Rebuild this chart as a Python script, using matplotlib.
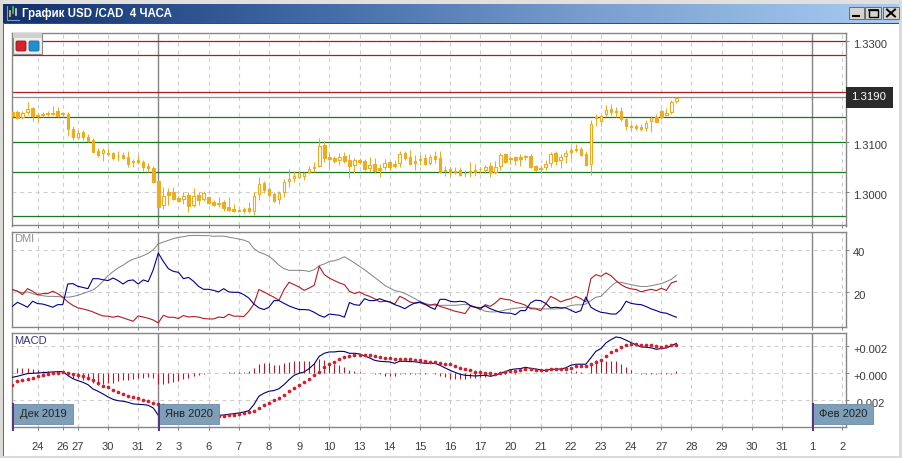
import numpy as np
import matplotlib
matplotlib.use("Agg")
import matplotlib.pyplot as plt
from matplotlib.patches import Rectangle, FancyBboxPatch
from matplotlib.colors import LinearSegmentedColormap
from matplotlib.transforms import ScaledTranslation

plt.rcParams['font.family'] = ['Liberation Sans', 'DejaVu Sans']

# USD/CAD 4 hour candles
opens = [1.3160,1.3160,1.3149,1.3160,1.3167,1.3153,1.3155,1.3157,1.3157,1.3162,
         1.3157,1.3156,1.3126,1.3110,1.3119,1.3110,1.3104,1.3082,1.3078,1.3078,
         1.3078,1.3073,1.3074,1.3070,1.3062,1.3064,1.3061,1.3052,1.3048,1.3022,
         1.2974,1.3000,1.3001,1.2988,1.2986,1.2995,1.2974,1.2995,1.2987,1.2991,
         1.2981,1.2979,1.2981,1.2971,1.2967,1.2965,1.2967,1.2968,1.2963,1.2996,
         1.3019,1.3006,1.2997,1.2986,1.3001,1.3023,1.3029,1.3031,1.3032,1.3040,
         1.3048,1.3052,1.3094,1.3070,1.3068,1.3064,1.3073,1.3065,1.3054,1.3065,
         1.3062,1.3049,1.3056,1.3048,1.3051,1.3060,1.3056,1.3059,1.3078,1.3071,
         1.3063,1.3066,1.3068,1.3058,1.3072,1.3068,1.3044,1.3046,1.3042,1.3044,
         1.3039,1.3042,1.3044,1.3047,1.3044,1.3052,1.3040,1.3052,1.3076,1.3068,
         1.3070,1.3070,1.3072,1.3072,1.3052,1.3048,1.3050,1.3058,1.3079,1.3065,
         1.3072,1.3085,1.3086,1.3087,1.3076,1.3056,1.3147,1.3141,1.3156,1.3166,
         1.3162,1.3161,1.3145,1.3132,1.3132,1.3130,1.3127,1.3141,1.3149,1.3162,
         1.3153,1.3160,1.3182]
highs = [1.3162,1.3164,1.3162,1.3179,1.3169,1.3157,1.3160,1.3162,1.3171,1.3169,
         1.3160,1.3160,1.3131,1.3124,1.3123,1.3115,1.3107,1.3088,1.3088,1.3088,
         1.3080,1.3082,1.3081,1.3083,1.3066,1.3074,1.3064,1.3058,1.3052,1.3023,
         1.3010,1.3008,1.3010,1.2993,1.3001,1.3001,1.3008,1.3001,1.3003,1.2991,
         1.2985,1.2990,1.2985,1.2991,1.2977,1.2966,1.2970,1.2981,1.3001,1.3031,
         1.3023,1.3011,1.3001,1.3003,1.3026,1.3046,1.3042,1.3043,1.3041,1.3052,
         1.3061,1.3107,1.3101,1.3078,1.3073,1.3079,1.3080,1.3076,1.3068,1.3068,
         1.3066,1.3070,1.3068,1.3056,1.3066,1.3063,1.3064,1.3082,1.3083,1.3084,
         1.3074,1.3074,1.3076,1.3076,1.3082,1.3082,1.3052,1.3051,1.3050,1.3051,
         1.3044,1.3060,1.3056,1.3051,1.3054,1.3061,1.3063,1.3078,1.3078,1.3072,
         1.3072,1.3076,1.3075,1.3076,1.3054,1.3054,1.3064,1.3081,1.3082,1.3076,
         1.3084,1.3091,1.3096,1.3091,1.3083,1.3144,1.3156,1.3154,1.3174,1.3176,
         1.3169,1.3169,1.3147,1.3136,1.3136,1.3136,1.3143,1.3152,1.3156,1.3165,
         1.3167,1.3184,1.3190]
lows = [1.3150,1.3145,1.3145,1.3154,1.3141,1.3141,1.3150,1.3152,1.3154,1.3150,
        1.3149,1.3111,1.3103,1.3105,1.3104,1.3100,1.3080,1.3071,1.3063,1.3072,
        1.3064,1.3063,1.3066,1.3051,1.3050,1.3056,1.3043,1.3041,1.3019,1.2970,
        1.2966,1.2975,1.2985,1.2980,1.2977,1.2960,1.2970,1.2975,1.2983,1.2977,
        1.2973,1.2971,1.2963,1.2963,1.2960,1.2960,1.2958,1.2958,1.2955,1.2985,
        1.2999,1.2991,1.2980,1.2976,1.2991,1.3010,1.3021,1.3028,1.3025,1.3036,
        1.3041,1.3050,1.3061,1.3049,1.3058,1.3054,1.3059,1.3029,1.3039,1.3056,
        1.3043,1.3043,1.3039,1.3031,1.3044,1.3044,1.3048,1.3050,1.3064,1.3054,
        1.3044,1.3054,1.3054,1.3054,1.3058,1.3038,1.3032,1.3032,1.3036,1.3032,
        1.3031,1.3031,1.3032,1.3038,1.3038,1.3031,1.3036,1.3044,1.3058,1.3056,
        1.3054,1.3052,1.3064,1.3048,1.3042,1.3039,1.3044,1.3050,1.3054,1.3049,
        1.3058,1.3066,1.3081,1.3072,1.3052,1.3034,1.3131,1.3131,1.3151,1.3154,
        1.3149,1.3141,1.3123,1.3122,1.3123,1.3121,1.3121,1.3120,1.3139,1.3145,
        1.3151,1.3156,1.3178]
closes = [1.3152,1.3147,1.3157,1.3166,1.3151,1.3151,1.3154,1.3156,1.3156,1.3152,
          1.3156,1.3125,1.3109,1.3117,1.3109,1.3102,1.3080,1.3074,1.3084,1.3077,
          1.3068,1.3072,1.3068,1.3056,1.3060,1.3060,1.3051,1.3048,1.3021,1.2971,
          1.2993,1.2995,1.2987,1.2983,1.2993,1.2972,1.2993,1.2985,1.2999,1.2978,
          1.2975,1.2977,1.2968,1.2965,1.2963,1.2962,1.2963,1.2962,1.2993,1.3016,
          1.3005,1.2995,1.2983,1.2999,1.3020,1.3027,1.3033,1.3038,1.3038,1.3046,
          1.3050,1.3092,1.3069,1.3066,1.3062,1.3070,1.3062,1.3052,1.3064,1.3060,
          1.3046,1.3054,1.3043,1.3044,1.3058,1.3051,1.3052,1.3076,1.3069,1.3057,
          1.3059,1.3065,1.3057,1.3070,1.3067,1.3040,1.3042,1.3040,1.3040,1.3035,
          1.3038,1.3041,1.3040,1.3046,1.3050,1.3040,1.3050,1.3074,1.3061,1.3066,
          1.3064,1.3067,1.3070,1.3050,1.3044,1.3046,1.3056,1.3076,1.3063,1.3070,
          1.3078,1.3080,1.3084,1.3074,1.3054,1.3136,1.3149,1.3152,1.3163,1.3160,
          1.3160,1.3145,1.3131,1.3130,1.3128,1.3125,1.3137,1.3147,1.3139,1.3149,
          1.3157,1.3179,1.3187]

# DMI lines
dmi_adx = [21.1,20.5,19.8,20.2,19.4,18.8,18.4,18.1,18.1,18.0,
           17.8,17.7,18.0,18.6,19.4,20.2,21.1,22.8,25.2,27.8,
           29.7,31.4,32.7,34.4,35.5,36.3,37.2,38.3,40.0,42.7,
           43.6,44.4,45.2,45.8,46.1,46.6,46.7,46.7,46.6,46.6,
           46.3,46.4,46.4,45.9,45.5,45.0,44.5,43.6,40.5,38.9,
           38.0,36.9,35.0,32.7,31.1,30.3,30.3,30.3,
           30.2,29.8,30.6,32.5,33.3,34.5,34.8,35.6,36.7,35.3,
           33.8,32.2,30.6,28.8,27.0,25.2,23.3,22.0,20.8,20.3,
           19.5,18.3,17.0,15.8,14.8,14.2,13.9,13.9,13.9,13.9,
           13.9,14.1,14.4,13.9,13.0,12.2,11.1,10.8,10.8,11.1,
           11.7,12.2,12.5,12.8,13.0,12.8,12.5,12.2,12.2,12.2,
           12.2,12.3,13.0,13.8,14.1,14.1,14.5,16.1,17.7,
           18.1,20.5,22.8,24.7,24.7,24.1,23.6,23.1,22.7,22.7,
           23.1,23.6,24.1,25.0,26.1,28.0]
dmi_plus = [21.3,20.5,18.9,21.7,20.5,18.9,19.4,19.4,20.5,19.4,
            17.7,15.5,13.9,12.7,12.2,11.6,10.8,9.8,8.9,8.8,
            8.3,8.8,8.0,7.2,6.4,8.9,8.4,7.8,7.0,5.6,
            9.2,8.3,8.3,7.7,9.1,8.4,8.6,8.4,7.7,7.5,
            7.5,8.4,8.1,9.7,8.8,8.8,8.6,11.1,14.5,21.3,
            20.2,18.9,17.7,16.3,21.3,24.7,23.6,22.5,
            20.9,22.0,23.3,32.2,28.3,26.7,25.5,24.4,23.6,20.5,
            19.4,20.2,18.9,18.1,17.0,15.5,15.8,15.5,14.5,18.1,
            17.0,15.5,14.8,15.2,14.2,13.9,14.5,13.4,12.7,11.9,
            11.1,10.6,10.0,13.4,13.0,11.9,14.2,13.4,15.0,17.2,
            16.7,16.4,15.3,14.8,13.9,12.3,12.2,11.4,14.5,18.1,
            16.9,15.5,16.4,17.0,18.1,17.0,15.5,26.4,28.3,
            27.5,29.1,27.8,25.5,23.6,22.3,21.6,21.3,20.2,20.9,
            21.4,20.8,21.9,20.9,24.4,25.2]
dmi_minus = [13.4,15.3,14.2,13.0,15.8,14.7,14.5,13.8,13.0,14.2,
             14.2,23.9,24.1,22.8,22.3,21.7,26.4,26.4,25.9,25.5,
             26.7,25.5,23.9,25.5,25.8,23.9,25.8,25.0,30.6,38.4,
             34.5,31.1,29.8,29.4,26.4,27.0,25.2,22.8,21.4,21.4,
             20.9,20.2,21.7,20.2,20.0,20.0,18.9,17.3,14.5,12.7,
             11.9,13.0,16.1,16.1,14.8,13.6,12.7,11.9,
             11.9,11.7,10.6,9.2,8.3,9.8,9.5,9.2,8.3,15.2,
             14.2,13.9,17.0,16.1,16.1,17.0,16.1,15.5,14.2,13.4,
             12.3,13.8,15.0,15.5,14.5,13.0,12.0,16.7,16.7,15.8,
             15.5,15.8,15.5,13.8,13.0,12.7,13.6,12.3,11.4,10.6,
             10.3,10.2,9.5,11.4,11.4,15.0,16.3,16.1,14.8,12.7,
             13.0,12.7,12.7,11.6,10.5,11.4,17.8,13.0,11.6,
             10.6,10.3,9.8,9.8,11.9,15.8,14.8,14.4,14.2,13.3,
             12.2,11.4,10.5,10.2,9.2,8.3]

# MACD line, signal dots, histogram
macd_line = [-0.00030,-0.00022,-0.00012,-0.00002,0.0,0.00002,0.00005,0.00007,0.00010,0.00012,
             0.00012,-0.00015,-0.00040,-0.00054,-0.00067,-0.00084,-0.00116,-0.00133,-0.00153,-0.00175,
             -0.00193,-0.00203,-0.00207,-0.00215,-0.00227,-0.00230,-0.00232,-0.00237,-0.00257,-0.00311,
             -0.00331,-0.00343,-0.00351,-0.00356,-0.00356,-0.00351,-0.00343,-0.00336,-0.00331,-0.00326,
             -0.00319,-0.00311,-0.00309,-0.00304,-0.00299,-0.00294,-0.00287,-0.00277,-0.00232,-0.00170,
             -0.00148,-0.00133,-0.00128,-0.00114,-0.00084,-0.00047,-0.00015,0.0,
             0.00010,0.00035,0.00069,0.00126,0.00148,0.00158,0.00158,0.00163,0.00161,0.00148,
             0.00148,0.00143,0.00128,0.00114,0.00096,0.00089,0.00086,0.00084,0.00074,0.00089,
             0.00089,0.00086,0.00086,0.00079,0.00074,0.00074,0.00074,0.00059,0.00040,0.00022,
             0.00007,-0.00007,-0.00015,-0.00017,-0.00020,-0.00017,-0.00015,-0.00022,-0.00015,0.0,
             0.00012,0.00027,0.00032,0.00035,0.00044,0.00037,0.00032,0.00025,0.00020,0.00030,
             0.00030,0.00032,0.00040,0.00059,0.00067,0.00067,0.00067,0.00114,0.00163,
             0.00183,0.00225,0.00249,0.00269,0.00262,0.00245,0.00227,0.00210,0.00195,0.00193,
             0.00188,0.00178,0.00183,0.00188,0.00203,0.00222]
macd_signal = [-0.00084,-0.00059,-0.00052,-0.00042,-0.00032,-0.00022,-0.00012,-0.00002,0.00002,0.00005,
               0.00007,0.00002,-0.00005,-0.00012,-0.00022,-0.00032,-0.00049,-0.00072,-0.00091,-0.00104,
               -0.00126,-0.00141,-0.00153,-0.00165,-0.00178,-0.00183,-0.00198,-0.00205,-0.00217,-0.00225,
               -0.00237,-0.00249,-0.00262,-0.00272,-0.00279,-0.00287,-0.00294,-0.00301,-0.00306,-0.00311,
               -0.00314,-0.00316,-0.00314,-0.00309,-0.00306,-0.00301,-0.00296,-0.00289,-0.00277,-0.00257,
               -0.00237,-0.00217,-0.00195,-0.00180,-0.00158,-0.00133,-0.00109,-0.00084,
               -0.00064,-0.00040,-0.00015,0.00012,0.00044,0.00069,0.00086,0.00104,0.00119,0.00128,
               0.00133,0.00136,0.00133,0.00133,0.00126,0.00119,0.00116,0.00111,0.00106,0.00104,
               0.00104,0.00104,0.00099,0.00096,0.00089,0.00086,0.00082,0.00077,0.00072,0.00067,
               0.00052,0.00042,0.00035,0.00022,0.00010,0.00007,0.00005,0.0,-0.00002,0.00002,
               0.00012,0.00015,0.00017,0.00022,0.00032,0.00032,0.00027,0.00025,0.00022,0.00030,
               0.00030,0.00032,0.00035,0.00042,0.00052,0.00054,0.00054,0.00069,0.00082,
               0.00101,0.00126,0.00156,0.00175,0.00193,0.00207,0.00215,0.00215,0.00212,0.00207,
               0.00207,0.00200,0.00198,0.00200,0.00207,0.00207]
macd_hist = [0.00044,0.00040,0.00040,0.00040,0.00035,0.00027,0.00020,0.00015,0.00010,0.00007,
             0.00002,-0.00022,-0.00035,-0.00035,-0.00047,-0.00052,-0.00072,-0.00084,-0.00079,-0.00072,
             -0.00072,-0.00059,-0.00047,-0.00047,-0.00040,-0.00035,-0.00032,-0.00027,-0.00035,-0.00077,
             -0.00079,-0.00072,-0.00067,-0.00054,-0.00042,-0.00035,-0.00022,-0.00010,-0.00005,0.0,
             0.00002,0.00002,0.00005,0.00007,0.00007,0.00010,0.00010,0.00017,0.00040,0.00072,
             0.00077,0.00074,0.00064,0.00064,0.00079,0.00084,0.00091,0.00089,
             0.00089,0.00089,0.00077,0.00106,0.00096,0.00077,0.00072,0.00059,0.00044,0.00022,
             0.00015,0.00007,0.00005,0.0,-0.00002,-0.00005,-0.00022,-0.00022,-0.00022,-0.00005,
             -0.00002,-0.00005,-0.00002,-0.00002,-0.00005,0.0,-0.00002,-0.00022,-0.00030,-0.00040,
             -0.00042,-0.00042,-0.00040,-0.00035,-0.00032,-0.00027,-0.00025,-0.00022,-0.00015,-0.00002,
             -0.00002,0.0,-0.00002,0.0,0.0,0.0,0.0,0.0,0.0,0.0,
             0.0,0.0,0.00010,0.00015,0.00015,0.00010,0.00005,0.00077,0.00096,
             0.00089,0.00091,0.00091,0.00091,0.00069,0.00044,0.00022,0.0,-0.00007,-0.00005,
             -0.00005,-0.00007,-0.00005,-0.00002,-0.00005,0.00020]

# horizontal levels on the price panel
red_levels = [1.3300, 1.3272, 1.3199]
green_levels = [1.3149, 1.3100, 1.3040, 1.2952]
last_price = 1.3190

# date axis, in bar numbers
day_bars = [5,10,13,19,25,29,33,39,45,51,57,63,69,75,81,87,93,99,105,111,117,123,129,135,141,147,153,159,165]
day_labels = ['24','26','27','30','31','2','3','6','7','8','9','10','13','14','15','16','17','20','21','22',
              '23','24','27','28','29','30','31','1','2']
month_bars = [0, 29, 159]
month_labels = ['Дек 2019', 'Янв 2020', 'Фев 2020']

W, H = 902, 458
GRID = '#cdcdcd'
FRAME = '#858585'
ORANGE = '#eeab1e'
RED = '#b01c22'
GREEN = '#17791c'
BLUE = '#00008c'
DARK_TXT = '#3a3a3a'

x = np.arange(len(closes))
bar_px = 5.03
px_of_bar = lambda b: 158.3 + bar_px * (b - 29)
xlim = ((12.3 - 158.3) / bar_px + 29, (845.7 - 158.3) / bar_px + 29)

fig = plt.figure(figsize=(W / 100, H / 100), dpi=100, facecolor='white')


def panel(top, bottom):
    a = fig.add_axes([12.3 / W, 1 - bottom / H, (845.7 - 12.3) / W, (bottom - top) / H])
    a.set_xlim(xlim)
    a.set_xticks(day_bars)
    a.yaxis.tick_right()
    a.set_axisbelow(True)
    a.grid(True, color=GRID, lw=0.8, ls=(0, (3.5, 3.5)))
    for s in a.spines.values():
        s.set_color(FRAME)
        s.set_linewidth(1.0)
    a.tick_params(axis='y', length=2.5, width=0.7, color=FRAME, labelsize=8, labelcolor=DARK_TXT, pad=2.8)
    a.tick_params(axis='x', length=2.2, width=0.7, color=FRAME, labelbottom=False)
    for b in month_bars[1:]:
        a.axvline(b, color=FRAME, lw=1.0, zorder=1.5)
    return a


def shift_ticklabels(a, px):
    # the platform prints its scale labels a bit below the tick
    off = ScaledTranslation(0, -px / 100, fig.dpi_scale_trans)
    for t in a.get_yticklabels():
        t.set_transform(t.get_transform() + off)


# price panel
ax = panel(33.3, 225.5)
ax.set_ylim(1.29340, 1.33161)
ax.set_yticks([1.3300, 1.3100, 1.3000])
ax.set_yticklabels(['1.3300', '1.3100', '1.3000'])
shift_ticklabels(ax, 2.7)
for lv in red_levels:
    ax.axhline(lv, color=RED, lw=0.9, zorder=2)
for lv in green_levels:
    ax.axhline(lv, color=GREEN, lw=0.9, zorder=2)
ax.axhline(last_price, color='#8c8c8c', lw=0.9, zorder=2)

ax.vlines(x, lows, highs, color=ORANGE, lw=0.75, zorder=3)
up = np.array(closes) > np.array(opens)
body_low = np.minimum(opens, closes)
body_h = np.abs(np.array(closes) - np.array(opens))
ax.bar(x, body_h, bottom=body_low, width=0.5, color=np.where(up, 'white', ORANGE),
       edgecolor=ORANGE, lw=0.8, zorder=4)

# DMI panel
ax2 = panel(231.7, 327.3)
ax2.set_ylim(3.57, 48.45)
ax2.set_yticks([40, 20])
ax2.set_yticklabels(['40', '20'])
shift_ticklabels(ax2, 2.5)
ax2.plot(x, dmi_adx, color='#808080', lw=0.7, zorder=3)
ax2.plot(x, dmi_plus, color=RED, lw=0.8, zorder=3)
ax2.plot(x, dmi_minus, color=BLUE, lw=0.8, zorder=3)

# MACD panel
ax3 = panel(333.3, 427.3)
ax3.set_ylim(-0.004, 0.00296)
ax3.set_yticks([0.002, 0.0, -0.002])
ax3.set_yticklabels(['+0.002', '+0.000', '-0.002'])
shift_ticklabels(ax3, 2.6)
ax3.set_xticklabels(day_labels)
ax3.tick_params(axis='x', labelbottom=True, labelsize=8, labelcolor=DARK_TXT, pad=8.2)
ax3.vlines(x, 0, macd_hist, color='#b01c2a', lw=0.8, zorder=2)
ax3.plot(x, macd_line, color='#00006e', lw=0.8, zorder=3)
ax3.scatter(x, macd_signal, s=7, color='#d0202c', lw=0, zorder=4)

# window chrome and anything that sits over the panels, in pixels
bg = fig.add_axes([0, 0, 1, 1], zorder=-1)
bg.set_xlim(0, W)
bg.set_ylim(H, 0)
bg.axis('off')
title_cmap = LinearSegmentedColormap.from_list('title', ['#10306e', '#3f68a4', '#7aa0d0', '#a8ccf2'])
bg.imshow(np.linspace(0, 1, 256).reshape(1, -1), extent=(3, 899, 23, 4), aspect='auto', cmap=title_cmap)
bg.set_xlim(0, W)
bg.set_ylim(H, 0)
bg.add_patch(Rectangle((0, 0), W, 4, color='#e2e0dc', lw=0))
bg.add_patch(Rectangle((0, 0), 3, H, color='#dcdad6', lw=0))
bg.add_patch(Rectangle((899, 0), 3, H, color='#dcdad6', lw=0))
bg.add_patch(Rectangle((0, 456), W, 2, color='#dcdad6', lw=0))
bg.add_patch(Rectangle((3, 22.5), 896, 1.5, color='#4a4a4a', lw=0))
bg.add_patch(Rectangle((2.5, 23), 1.2, 433, color='#6a6a6a', lw=0))

ov = fig.add_axes([0, 0, 1, 1], zorder=10)
ov.patch.set_alpha(0)
ov.set_xlim(0, W)
ov.set_ylim(H, 0)
ov.axis('off')

ov.text(22, 13.5, 'График USD /CAD  4 ЧАСА', color='white', fontsize=8.3, fontweight='bold', va='center')
# little candle icon in the title bar
ov.plot([7, 7, 19], [6, 20, 20], color='#7fa0c8', lw=0.8)
for ix, y0, y1, c in [(10, 11, 16, '#d8b840'), (13, 7, 13, '#50b060'), (16, 9, 15, '#c8c8c8')]:
    ov.plot([ix, ix], [y0, y1], color=c, lw=1.3)

# caption of each sub panel
ov.text(14.5, 239, 'DMI', color='#8f8f8f', fontsize=8, va='center')
ov.text(14.5, 341, 'MACD', color='#35357a', fontsize=8, va='center')

# window buttons
for bx, bw in [(849, 15), (865, 15.5), (883, 16)]:
    ov.add_patch(Rectangle((bx, 7), bw, 12, fc='#d6d3ce', ec='#6a6a6a', lw=0.7))
ov.plot([853, 859], [16, 16], color='black', lw=1.5)
ov.add_patch(Rectangle((868.5, 9.5), 9, 7.5, fc='none', ec='black', lw=1.0))
ov.plot([868.5, 877.5], [10, 10], color='black', lw=1.2)
ov.plot([887, 895], [9.5, 16.5], color='black', lw=1.4)
ov.plot([887, 895], [16.5, 9.5], color='black', lw=1.4)

# indicator switch box, top left
ov.add_patch(Rectangle((12.7, 33), 29.6, 21, fc='#f0eeea', ec='#8a8a8a', lw=0.8))
ov.add_patch(Rectangle((12.7, 33), 29.6, 5, fc='#d2d0cc', ec='none'))
for bx, fc, ec in [(16.5, '#d5232c', '#8e1a1c'), (29.5, '#1f8fd0', '#1a6a9a')]:
    ov.add_patch(FancyBboxPatch((bx, 41.5), 9, 9, boxstyle='round,pad=0.5,rounding_size=1.5', fc=fc, ec=ec, lw=0.6))

# last price tag
ov.add_patch(Rectangle((845.7, 87.3), 47, 20.7, fc='#2b2b2b', ec='none'))
ov.text(869, 97.3, '%.4f' % last_price, color='white', fontsize=8.2, ha='center', va='center')

# month labels
for b, lab in zip(month_bars, month_labels):
    left = max(px_of_bar(b), 12.3)
    ov.add_patch(Rectangle((left, 404), 61, 20, fc='#7e9fb9', ec='#6d8aa2', lw=0.6))
    ov.add_patch(Rectangle((left - 0.4, 403), 2, 27.5, fc='#56397c', ec='none'))
    ov.text(left + 31, 414, lab, color='#222222', fontsize=8, ha='center', va='center')

fig.savefig('out.png', dpi=100, facecolor='white')
